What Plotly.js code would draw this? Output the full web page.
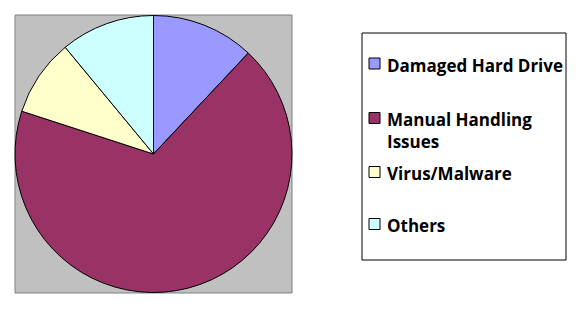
<!DOCTYPE html>
<html>
<head>
<meta charset="utf-8">
<script src="https://cdn.plot.ly/plotly-3.0.1.min.js"></script>
<style>html,body{margin:0;padding:0;background:#fff;}#chart{width:577px;height:318px;}</style>
</head>
<body>
<div id="chart"></div>
<script>
// Data
const labels = ["Damaged Hard Drive", "Manual Handling Issues", "Virus/Malware", "Others"];
const legendText = ["Damaged Hard Drive", "Manual Handling<br>Issues", "Virus/Malware", "Others"];
const values = [12, 68, 9, 11];
const colors = ["#9999FF", "#993366", "#FFFFCC", "#CCFFFF"];

// Layout helpers (pixel -> paper)
const W = 577, H = 318;
const px = x => x / W;
const py = y => 1 - y / H;

const plotBox = {x0: 15, y0: 15, x1: 292, y1: 293};
const pieBox = {x0: 15, y0: 15, x1: 292, y1: 293};
const legBox = {x0: 362, y0: 33, x1: 566, y1: 260};
const markerCenters = [63.5, 118, 172, 224];
const markerSize = 11;
const markerX = 369;
const textX = 385;

const shapes = [
  {type: 'rect', xref: 'paper', yref: 'paper', layer: 'below',
   x0: px(plotBox.x0), x1: px(plotBox.x1), y0: py(plotBox.y1), y1: py(plotBox.y0),
   fillcolor: '#C0C0C0', line: {color: '#808080', width: 1}},
  {type: 'rect', xref: 'paper', yref: 'paper', layer: 'below',
   x0: px(legBox.x0), x1: px(legBox.x1), y0: py(legBox.y1), y1: py(legBox.y0),
   fillcolor: '#FFFFFF', line: {color: '#000000', width: 1}}
];
const annotations = [];
labels.forEach((lab, i) => {
  const c = markerCenters[i];
  shapes.push({type: 'rect', xref: 'paper', yref: 'paper',
    x0: px(markerX), x1: px(markerX + markerSize),
    y0: py(c + markerSize / 2), y1: py(c - markerSize / 2),
    fillcolor: colors[i], line: {color: '#000000', width: 1}});
  annotations.push({xref: 'paper', yref: 'paper', x: px(textX), y: py(c - 12),
    xanchor: 'left', yanchor: 'top', align: 'left', showarrow: false,
    text: '<b>' + legendText[i] + '</b>',
    font: {family: 'Open Sans, sans-serif', size: 17, color: '#000000'}});
});

const trace = {
  type: 'pie',
  labels: labels,
  values: values,
  sort: false,
  direction: 'clockwise',
  rotation: 0,
  textinfo: 'none',
  hoverinfo: 'label+percent',
  marker: {colors: colors, line: {color: '#000000', width: 1}},
  domain: {x: [px(pieBox.x0), px(pieBox.x1)], y: [py(pieBox.y1), py(pieBox.y0)]}
};

const layout = {
  width: W, height: H,
  margin: {l: 0, r: 0, t: 0, b: 0},
  paper_bgcolor: '#FFFFFF',
  showlegend: false,
  shapes: shapes,
  annotations: annotations
};

Plotly.newPlot('chart', [trace], layout, {displayModeBar: false, staticPlot: true});
</script>
</body>
</html>
